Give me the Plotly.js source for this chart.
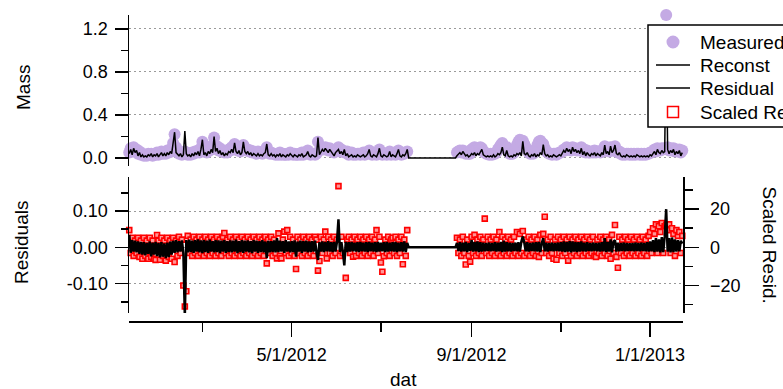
<!DOCTYPE html>
<html>
<head>
<meta charset="utf-8">
<script src="https://cdn.plot.ly/plotly-3.0.1.min.js"></script>
<style>html,body{margin:0;padding:0;background:#fff;}#chart{width:783px;height:389px;}</style>
</head>
<body>
<div id="chart"></div>
<script>
// ---- data (daily samples starting 2012-01-11) ----
const startDate = '2012-01-11';
const reconst = [
0.04,0.08,0.03,0.09,0.05,0.07,0.02,0.05,0.01,0.03,
0.01,0.02,0.01,0.03,0.02,0.04,0.01,0.03,0.02,0.04,
0.01,0.03,0.05,0.02,0.04,0.02,0.05,0.03,0.06,0.04,
0.12,0.24,0.05,0.03,0.02,0.04,0.01,0.03,0.25,0.04,
0.02,0.03,0.01,0.04,0.02,0.05,0.03,0.06,0.02,0.08,
0.17,0.03,0.05,0.02,0.06,0.04,0.08,0.05,0.20,0.06,
0.09,0.04,0.07,0.03,0.05,0.02,0.04,0.03,0.06,0.05,
0.08,0.05,0.14,0.06,0.04,0.07,0.03,0.05,0.15,0.06,
0.04,0.06,0.03,0.05,0.02,0.04,0.03,0.02,0.04,0.02,
0.03,0.02,0.04,0.05,0.13,0.03,0.02,0.04,0.02,0.03,
0.01,0.03,0.02,0.04,0.01,0.03,0.02,0.01,0.03,0.02,
0.04,0.02,0.01,0.03,0.02,0.01,0.03,0.02,0.04,0.01,
0.02,0.03,0.06,0.02,0.01,0.03,0.02,0.01,0.02,0.19,
0.03,0.05,0.08,0.06,0.09,0.07,0.05,0.08,0.06,0.04,
0.02,0.05,0.07,0.08,0.04,0.06,0.03,0.08,0.02,0.04,
0.01,0.02,0.03,0.01,0.02,0.01,0.03,0.02,0.01,0.02,
0.03,0.01,0.02,0.04,0.08,0.02,0.01,0.03,0.02,0.01,
0.04,0.09,0.02,0.01,0.03,0.02,0.01,0.02,0.06,0.01,
0.03,0.02,0.01,0.04,0.08,0.02,0.01,0.03,0.02,0.04,0.08,
0,0,0,0,0,0,0,0,0,0,0,0,0,0,0,0,0,0,0,0,0,0,0,0,0,0,0,0,0,0,0,0,0,
0.02,0.04,0.05,0.03,0.06,0.04,0.02,0.03,0.01,0.02,
0.04,0.03,0.05,0.02,0.04,0.03,0.06,0.08,0.03,0.02,
0.01,0.02,0.01,0.02,0.01,0.03,0.01,0.02,0.04,0.03,
0.05,0.10,0.03,0.02,0.07,0.02,0.01,0.02,0.01,0.03,
0.02,0.04,0.03,0.05,0.02,0.155,0.04,0.03,0.05,0.02,
0.01,0.03,0.02,0.04,0.01,0.03,0.02,0.05,0.03,0.125,
0.04,0.02,0.03,0.01,0.02,0.01,0.03,0.02,0.01,0.02,
0.03,0.02,0.04,0.07,0.05,0.09,0.06,0.08,0.04,0.10,
0.06,0.08,0.05,0.07,0.04,0.09,0.03,0.06,0.02,0.05,
0.03,0.02,0.04,0.03,0.05,0.02,0.04,0.03,0.02,0.05,
0.03,0.12,0.04,0.06,0.03,0.11,0.05,0.07,0.12,0.04,
0.03,0.05,0.02,0.01,0.02,0.01,0.03,0.02,0.01,0.02,
0.01,0.02,0.01,0.03,0.02,0.01,0.02,0.01,0.02,0.01,
0.02,0.01,0.03,0.02,0.04,0.06,0.03,0.08,0.05,0.04,
0.07,0.05,0.06,1.22,0.08,0.04,0.07,0.05,0.08,0.03,
0.06,0.04,0.07,0.02,0.05
];
const measured = [
0.05,0.09,0.06,0.10,0.07,0.08,0.04,0.06,0.03,0.04,
0.02,0.03,0.02,0.04,0.03,0.04,0.02,0.03,0.03,0.05,
0.03,0.04,0.06,0.04,0.05,0.04,0.07,0.05,0.08,0.06,
0.14,0.22,0.10,0.06,0.04,0.05,0.03,0.04,0.06,0.05,
0.03,0.04,0.03,0.05,0.04,0.06,0.05,0.07,0.05,0.09,
0.15,0.06,0.07,0.05,0.08,0.07,0.11,0.09,0.19,0.10,
0.11,0.07,0.09,0.06,0.07,0.05,0.06,0.05,0.08,0.07,
0.10,0.08,0.13,0.09,0.07,0.09,0.06,0.08,0.12,0.09,
0.07,0.08,0.06,0.07,0.05,0.06,0.05,0.04,0.06,0.05,
0.05,0.04,0.06,0.07,0.10,0.05,0.04,0.05,0.04,0.04,
0.03,0.04,0.03,0.05,0.03,0.04,0.03,0.03,0.04,0.03,
0.05,0.04,0.03,0.04,0.03,0.03,0.04,0.03,0.05,0.03,
0.04,0.05,0.07,0.04,0.03,0.04,0.04,0.03,0.04,0.15,
0.07,0.08,0.09,0.08,0.10,0.09,0.07,0.09,0.08,0.06,
0.05,0.07,0.08,0.10,0.06,0.08,0.06,0.05,0.05,0.06,
0.03,0.04,0.05,0.03,0.04,0.03,0.04,0.04,0.03,0.04,
0.05,0.03,0.04,0.05,0.07,0.04,0.03,0.04,0.04,0.03,
0.05,0.08,0.04,0.03,0.04,0.04,0.03,0.04,0.06,0.03,
0.04,0.04,0.03,0.05,0.07,0.04,0.03,0.04,0.04,0.05,0.06,
null,null,null,null,null,null,null,null,null,null,null,null,null,null,null,null,null,null,null,null,null,null,null,null,null,null,null,null,null,null,null,null,null,
0.05,0.06,0.07,0.05,0.07,0.06,0.04,0.05,0.04,0.04,
0.08,0.09,0.10,0.08,0.09,0.08,0.10,0.09,0.06,0.05,
0.04,0.04,0.03,0.04,0.03,0.04,0.04,0.05,0.08,0.10,
0.12,0.14,0.11,0.09,0.10,0.06,0.04,0.04,0.04,0.05,
0.07,0.12,0.15,0.17,0.15,0.16,0.13,0.10,0.08,0.05,
0.04,0.05,0.04,0.05,0.08,0.12,0.15,0.16,0.14,0.13,
0.09,0.06,0.05,0.04,0.04,0.03,0.04,0.04,0.03,0.04,
0.05,0.05,0.06,0.08,0.07,0.10,0.08,0.09,0.07,0.10,
0.08,0.09,0.07,0.08,0.07,0.10,0.06,0.08,0.05,0.07,
0.05,0.05,0.06,0.05,0.07,0.05,0.06,0.06,0.05,0.07,
0.06,0.11,0.07,0.08,0.06,0.10,0.07,0.08,0.11,0.06,
0.05,0.06,0.04,0.03,0.04,0.03,0.04,0.04,0.03,0.04,
0.03,0.04,0.03,0.04,0.04,0.03,0.04,0.03,0.04,0.03,
0.04,0.04,0.05,0.05,0.06,0.08,0.06,0.09,0.08,0.07,
0.09,0.08,0.09,1.33,0.10,0.07,0.09,0.07,0.09,0.06,
0.08,0.06,0.08,0.05,0.07
];
const residual = [
0.034,-0.015,0.02,-0.012,0.018,-0.014,0.016,-0.018,0.015,-0.02,
0.014,-0.022,0.012,-0.018,0.016,-0.025,0.013,-0.02,0.015,-0.024,
0.012,-0.028,0.014,-0.026,0.011,-0.03,0.013,-0.027,0.016,-0.02,
0.018,-0.015,0.02,-0.014,0.017,-0.012,0.019,-0.016,-0.19,0.02,
-0.014,0.021,-0.013,0.018,-0.015,0.02,-0.012,0.022,-0.014,0.019,
-0.016,0.02,-0.013,0.018,-0.015,0.021,-0.012,0.017,-0.014,0.02,
-0.013,0.019,-0.016,0.018,-0.012,0.02,-0.015,0.017,-0.013,0.019,
-0.014,0.018,-0.012,0.021,-0.016,0.017,-0.013,0.02,-0.015,0.018,
-0.012,0.019,-0.014,0.017,-0.016,0.02,-0.012,0.018,-0.015,0.017,
-0.013,0.02,-0.014,0.016,-0.03,0.018,-0.014,0.017,-0.013,0.019,
-0.014,0.025,-0.013,0.018,-0.012,0.017,-0.015,0.02,-0.012,0.016,
-0.014,0.017,-0.013,0.019,-0.026,0.016,-0.012,0.018,-0.015,0.017,
-0.012,0.018,-0.014,0.016,-0.013,0.017,-0.012,0.018,-0.014,-0.035,
0.014,-0.012,0.016,-0.013,0.015,-0.011,0.017,-0.012,0.014,-0.013,
0.015,-0.012,0.016,0.077,-0.013,0.014,-0.012,-0.05,0.015,-0.013,
0.014,-0.012,0.015,-0.011,0.013,-0.012,0.014,-0.013,0.015,-0.011,
0.013,-0.012,0.014,-0.013,0.015,-0.011,0.013,-0.012,0.014,-0.013,
0.015,-0.012,0.013,-0.011,0.014,-0.013,0.015,-0.012,0.013,-0.011,
0.014,-0.012,0.015,-0.013,0.013,-0.011,0.014,-0.012,0.016,-0.013,0.012,
0,0,0,0,0,0,0,0,0,0,0,0,0,0,0,0,0,0,0,0,0,0,0,0,0,0,0,0,0,0,0,0,0,
0.012,-0.01,0.014,-0.012,0.013,-0.011,0.015,-0.013,0.012,-0.01,
0.02,-0.012,0.015,-0.011,0.016,-0.013,0.014,-0.012,0.013,-0.011,
0.012,-0.01,0.013,-0.011,0.012,-0.01,0.014,-0.012,0.013,-0.011,
0.015,-0.013,0.018,-0.012,0.014,-0.011,0.013,-0.012,0.012,-0.01,
0.013,-0.011,0.014,-0.012,0.015,0.03,0.013,-0.011,0.014,-0.012,
0.012,-0.01,0.013,-0.011,0.014,-0.012,0.015,-0.013,0.012,0.025,
-0.011,0.013,-0.012,0.012,-0.01,0.013,-0.011,0.012,-0.01,0.013,
-0.011,0.014,-0.012,0.016,-0.013,0.015,-0.012,0.017,-0.014,0.016,
-0.012,0.015,-0.013,0.014,-0.012,0.016,-0.011,0.013,-0.012,0.014,
-0.01,0.012,-0.011,0.013,-0.01,0.012,-0.011,0.013,-0.012,0.014,
-0.011,0.025,-0.013,0.015,-0.012,0.022,-0.014,0.016,0.02,-0.012,
0.013,-0.011,0.012,-0.01,0.013,-0.011,0.012,-0.01,0.011,-0.01,
0.012,-0.011,0.013,-0.01,0.012,-0.011,0.013,-0.01,0.012,-0.011,
0.014,-0.012,0.016,-0.011,0.02,-0.013,0.025,-0.012,0.022,-0.014,
0.028,-0.013,0.03,0.105,-0.012,0.025,-0.014,0.027,-0.013,0.022,
-0.012,0.02,-0.011,0.018,0.01
];
const scaledResid = [
9,-3,5,-4.5,3.5,-3,5,-5,3.5,-6,
5,-4.5,3.5,-6,5,-5,3.5,-6,-6.6,6.4,
3.5,-6.5,5,-4.5,3.5,-7,5,-5,3.5,-6,
5,-7.7,3.5,-4.5,5.5,-3,4,-20,-31,-23,
6,-3,4,-4.5,5.5,-3,4,-4.5,5.5,-3,
4,-4.5,5.5,-3,4,-4.5,5.5,-3,4,-4.5,
5.5,-3,4,-4.5,5.5,7.5,-3,4,-4.5,5.5,
-3,4,-4.5,5.5,-3,4,-4.5,5.5,-3,4,
-4.5,5.5,-3,4,-4.5,5.5,-3,4,-4.5,5.5,
-3,4,-4.5,5.5,-8.4,4,-3,5.5,-4.5,4,
-3,-5.8,7.3,-4.5,-5.8,4,8.2,-3,9,-4.5,
5.5,-3,4,-4.5,-11.4,5.5,-3,4,-4.5,5.5,
-3,4,-4.5,5.5,-3,4,-4.5,5.5,4,-12.2,
-7.2,5.5,-3,4,8.2,-5.8,5.5,-3,4,-4.5,
5.5,-3,4,32,-4.5,5.5,-3,-35,-16,4,
5.5,-3,4,-4.9,5.5,-4.5,4,-3,5.5,-4.5,
4,-3,5.5,-4.5,4,-3,5.5,-4.5,4,9,
-3,5.5,-8,-12.8,-4.6,4,-3,5.5,-4.5,4,
5,-3,5.5,-4.5,4,-3,5.5,-8.9,4,-4.5,9,
null,null,null,null,null,null,null,null,null,null,null,null,null,null,null,null,null,null,null,null,null,null,null,null,null,null,null,null,null,null,null,null,null,
5,-3,4,-4.5,5.5,-3,-9,4,-4.5,-7.5,
5.5,-3,6.5,-4.5,4,-3,5.5,-4.5,4,15,
-3,5.5,-4.5,4,-3,5.5,-4.5,4,-3,8,
-4.5,5.5,-3,4,-4.5,5.5,-3,4,-4.5,5.5,
-3,8,-4.5,7,-3,8.5,-4.5,4,-3,5.5,
-4.5,4,-3,5.5,-4.5,4,-5,6.5,-3,7,
16,-3,4,-4.5,5.5,-3,-6,4,-6.5,5.5,
-3,4,-4.5,5.5,-3,4,-7,5.5,-4.5,4,
-3,5.5,-4.5,4,-3,5.5,-4.5,4,-3,5.5,
-4.5,4,-3,5.5,-4.5,-5,4,-3,5.5,-4.5,
4,-3,5.5,-4.5,4,-6,6.5,-3,11.7,-5,
-10.7,5.5,-3,4,-4.5,5.5,-3,4,-4.5,5.5,
-3,4,-4.5,5.5,-3,4,-4.5,5.5,-3,4,
-4.5,6,8,-3,10,7,12,-3,11,8,
12.7,-3,11,11.7,9,12,-3,10,7,-4.5,
9,6,8,-3,6
];
const majorTickDates = ['2012-05-01','2012-09-01','2013-01-01'];
const majorTickText = ['5/1/2012','9/1/2012','1/1/2013'];
const minorTickDates = ['2012-03-01','2012-07-01','2012-11-01'];
const massTicks = [0, 0.4, 0.8, 1.2];
const massTickText = ['0.0','0.4','0.8','1.2'];
const residTicks = [-0.1, 0, 0.1];
const residTickText = ['-0.10','0.00','0.10'];
const scaledTicks = [-20, 0, 20];
const legendNames = ['Measured','Reconst','Residual','Scaled Resid.'];

// sampling grid (one sample per day)
const dates = reconst.map((_, i) => {
  const d = new Date(startDate + 'T00:00:00Z');
  d.setUTCDate(d.getUTCDate() + i);
  return d.toISOString().slice(0, 10);
});

const FONT = 'Liberation Sans, Arial, sans-serif';
const PURPLE = 'rgb(196,170,228)';
const RED = '#ff0000';
const L = 129, R = 683, T = 15, B = 321, W = 783, H = 389;
const py = p => (B - p) / (B - T);         // pixel y -> paper y
const px = p => (p - L) / (R - L);         // pixel x -> paper x

const traces = [
  {x: dates, y: measured, xaxis: 'x2', yaxis: 'y2', type: 'scatter', mode: 'markers',
   marker: {color: PURPLE, size: 12}, cliponaxis: false, name: legendNames[0]},
  {x: dates, y: reconst, xaxis: 'x2', yaxis: 'y2', type: 'scatter', mode: 'lines',
   line: {color: '#000', width: 1.5}, name: legendNames[1]},
  {x: dates, y: scaledResid, xaxis: 'x', yaxis: 'y', type: 'scatter', mode: 'markers',
   marker: {symbol: 'square', color: 'rgb(255,150,150)', size: 5, line: {width: 1.6, color: RED}},
   cliponaxis: false, name: legendNames[3]},
  {x: dates, y: residual, xaxis: 'x', yaxis: 'y3', type: 'scatter', mode: 'lines',
   line: {color: '#000', width: 2.5}, name: legendNames[2]}
];

// legend drawn as a box with symbols and texts (pixel positions)
const legRows = [42, 65, 88, 112];
const shapes = [
  {type: 'rect', xref: 'paper', yref: 'paper', x0: px(648), x1: px(800), y0: py(127), y1: py(25),
   fillcolor: '#fff', line: {color: '#000', width: 1.5}, layer: 'above'},
  {type: 'circle', xref: 'paper', yref: 'paper', x0: px(666.5), x1: px(679.5), y0: py(48.5), y1: py(35.5),
   fillcolor: PURPLE, line: {width: 0}, layer: 'above'},
  {type: 'line', xref: 'paper', yref: 'paper', x0: px(656), x1: px(690), y0: py(65), y1: py(65),
   line: {color: '#000', width: 1.5}, layer: 'above'},
  {type: 'line', xref: 'paper', yref: 'paper', x0: px(656), x1: px(690), y0: py(88), y1: py(88),
   line: {color: '#000', width: 1.5}, layer: 'above'},
  {type: 'rect', xref: 'paper', yref: 'paper', x0: px(667.5), x1: px(678.5), y0: py(117.5), y1: py(106.5),
   fillcolor: '#fff', line: {color: RED, width: 1.5}, layer: 'above'}
];

const xRange = ['2012-01-10 20:00', '2013-01-23 12:00'];
const tickFont = {family: FONT, size: 18, color: '#000'};
const titleFont = {family: FONT, size: 19, color: '#000'};
const gridStyle = {showgrid: true, gridcolor: '#9a9a9a', griddash: '2px,3px', gridwidth: 1};

const annotations = [
  {text: 'Mass', xref: 'paper', yref: 'paper', x: px(23), y: py(88), textangle: -90,
   showarrow: false, xanchor: 'center', yanchor: 'middle', font: titleFont},
  {text: 'Residuals', xref: 'paper', yref: 'paper', x: px(21), y: py(243), textangle: -90,
   showarrow: false, xanchor: 'center', yanchor: 'middle', font: titleFont},
  {text: 'Scaled Resid.', xref: 'paper', yref: 'paper', x: px(769.5), y: py(245), textangle: 90,
   showarrow: false, xanchor: 'center', yanchor: 'middle', font: titleFont},
  {text: 'dat', xref: 'paper', yref: 'paper', x: px(403), y: py(379), showarrow: false,
   xanchor: 'center', yanchor: 'middle', font: titleFont}
].concat(legendNames.map((n, k) => ({
  text: n, xref: 'paper', yref: 'paper', x: px(698), y: py(legRows[k]), showarrow: false,
  xanchor: 'left', yanchor: 'middle', font: titleFont
})));

const layout = {
  width: W, height: H,
  margin: {l: L, r: W - R, t: T, b: H - B, autoexpand: false},
  paper_bgcolor: '#fff', plot_bgcolor: 'rgba(0,0,0,0)',
  font: {family: FONT, size: 18, color: '#000'},
  showlegend: false,
  xaxis: {type: 'date', range: xRange, domain: [0, 1], anchor: 'free', position: 0,
          showline: true, linecolor: '#000', linewidth: 1.5, zeroline: false, showgrid: false,
          tickmode: 'array', tickvals: majorTickDates, ticktext: majorTickText,
          ticks: 'outside', ticklen: 14, tickwidth: 1.5, tickcolor: '#000', tickfont: tickFont,
          ticklabelstandoff: 3,
          minor: {tickmode: 'array', tickvals: minorTickDates, ticks: 'outside', ticklen: 9,
                  tickwidth: 1.5, tickcolor: '#000', showgrid: false}},
  xaxis2: {type: 'date', range: xRange, domain: [0, 1], anchor: 'y2', matches: 'x',
           showline: false, showticklabels: false, ticks: '', showgrid: false, zeroline: false},
  // bottom panel, scaled residual (right)
  yaxis: {domain: [py(313), py(177)], range: [-34.4, 36.8], side: 'right', anchor: 'x',
          showline: true, linecolor: '#000', linewidth: 1.5, zeroline: false, showgrid: false,
          tickmode: 'array', tickvals: scaledTicks, ticks: 'outside', ticklen: 14, tickwidth: 1.5,
          tickcolor: '#000', tickfont: tickFont, ticklabelstandoff: 8,
          minor: {tickmode: 'array', tickvals: [-30, -10, 10, 30], ticks: 'outside', ticklen: 8,
                  tickwidth: 1.5, tickcolor: '#000', showgrid: false}},
  // bottom panel, residuals (left)
  yaxis3: Object.assign({overlaying: 'y', side: 'left', anchor: 'x', range: [-0.181, 0.1937],
          showline: true, linecolor: '#000', linewidth: 1.5, zeroline: false,
          tickmode: 'array', tickvals: residTicks, ticktext: residTickText, ticks: 'outside',
          ticklen: 13, tickwidth: 1.5, tickcolor: '#000', tickfont: tickFont, ticklabelstandoff: 3,
          minor: {tickmode: 'array', tickvals: [-0.15, -0.05, 0.05, 0.15], ticks: 'outside', ticklen: 7,
                  tickwidth: 1.5, tickcolor: '#000', showgrid: false}}, gridStyle),
  // top panel, mass
  yaxis2: Object.assign({domain: [py(165.5), 1], range: [-0.07, 1.33], anchor: 'x2',
          showline: true, linecolor: '#000', linewidth: 1.5, zeroline: false,
          tickmode: 'array', tickvals: massTicks, ticktext: massTickText, ticks: 'outside',
          ticklen: 13, tickwidth: 1.5, tickcolor: '#000', tickfont: tickFont, ticklabelstandoff: 3,
          minor: {tickmode: 'array', tickvals: [0.2, 0.6, 1.0], ticks: 'outside', ticklen: 7,
                  tickwidth: 1.5, tickcolor: '#000', showgrid: false}}, gridStyle),
  shapes: shapes,
  annotations: annotations
};

Plotly.newPlot('chart', traces, layout, {staticPlot: true, displayModeBar: false});
</script>
</body>
</html>
